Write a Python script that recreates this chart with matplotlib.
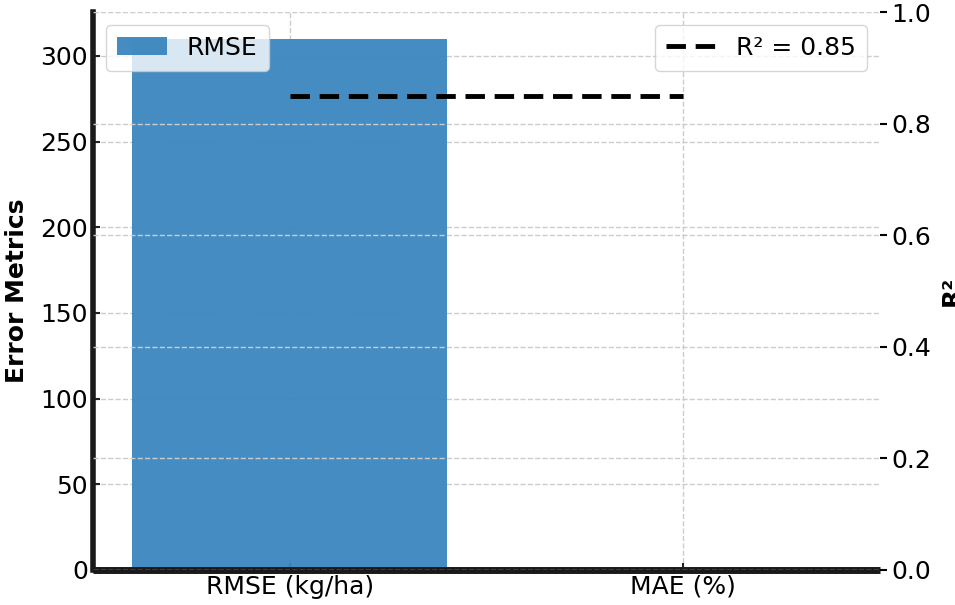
import matplotlib
matplotlib.use("Agg")
import matplotlib.pyplot as plt

categories = ["RMSE (kg/ha)", "MAE (%)"]
error_values = [310, 0]
r2_value = 0.85
r2_x = [0, 1]

fs = 18
fig = plt.figure(figsize=(9.55, 6.05), dpi=100)
ax1 = fig.add_axes([0.0974, 0.0579, 0.824, 0.922])
ax1.bar(categories[:1], error_values[:1], width=0.8, color="#3a86bf", alpha=0.95, label="RMSE")
ax1.bar(categories[1:], error_values[1:], width=0.8, color="#3a86bf", alpha=0.95)
ax1.set_xlim(-0.5, 1.5)
ax1.set_ylim(0, 325.5)
ax1.set_ylabel("Error Metrics", fontsize=fs, fontweight="bold", labelpad=8)
ax1.tick_params(axis="both", labelsize=fs, direction="in", length=5, width=1.5, color="#222222")
ax1.grid(True, linestyle="--", color="#cccccc", linewidth=1)
ax1.set_axisbelow(True)
for s in ["top", "right"]:
    ax1.spines[s].set_visible(False)
ax1.spines["left"].set_linewidth(4)
ax1.spines["bottom"].set_linewidth(5)
ax1.spines["left"].set_color("#1a1a1a")
ax1.spines["bottom"].set_color("#1a1a1a")
ax1.spines["bottom"].set_capstyle("butt")
ax1.legend(loc="upper left", fontsize=fs, borderpad=0.45, handlelength=2.0)

ax2 = ax1.twinx()
ax2.plot(r2_x, [r2_value, r2_value], color="black", linestyle="--", linewidth=3.5,
         dashes=(4, 2), label=f"R² = {r2_value}")
ax2.set_ylim(0, 1.0)
ax2.set_yticks([0.0, 0.2, 0.4, 0.6, 0.8, 1.0])
ax2.set_ylabel("R²", fontsize=fs, fontweight="bold", labelpad=6)
ax2.tick_params(axis="y", labelsize=fs, direction="out", length=5, width=1.5)
ax2.grid(True, linestyle="--", color="#cccccc", linewidth=1)
for s in ["top", "right", "left", "bottom"]:
    ax2.spines[s].set_visible(False)
ax2.legend(loc="upper right", fontsize=fs, borderpad=0.45, handlelength=2.0)

fig.savefig("out.png", dpi=100)
